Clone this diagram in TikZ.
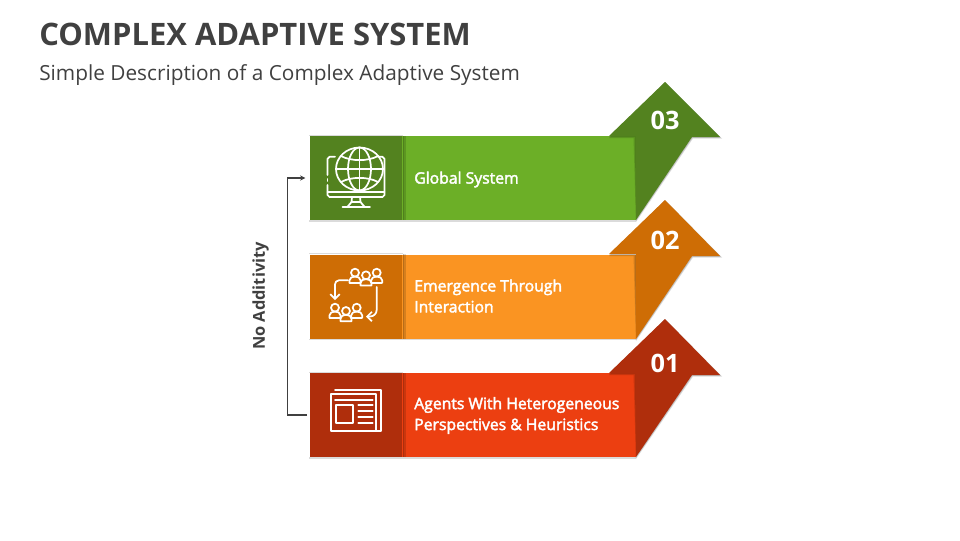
\documentclass[tikz,border=0pt]{standalone}
\usepackage{fontspec}
\setmainfont{Open Sans}
\newfontfamily\semifont[FakeBold=2.5]{Open Sans}
\usetikzlibrary{arrows.meta}

\definecolor{greenlight}{HTML}{6CAF27}
\definecolor{greendark}{HTML}{53821F}
\definecolor{orangelight}{HTML}{FA9422}
\definecolor{orangedark}{HTML}{CE6D05}
\definecolor{redlight}{HTML}{EC3F11}
\definecolor{reddark}{HTML}{AF2E0C}
\definecolor{inkgray}{HTML}{404040}

\tikzset{
	barbox/.style = {minimum width = 175.5pt, minimum height = 63pt, inner sep = 0pt},
	iconbox/.style = {minimum width = 69.5pt, minimum height = 63pt, inner sep = 0pt},
	softshade/.style = {fill = black, opacity = .14},
	barlabel/.style = {anchor = west, align = left, text = white, font = \fontsize{11.8}{15.7}\semifont, inner sep = 0pt},
	numlabel/.style = {text = white, font = \fontsize{19}{19}\selectfont\bfseries, inner sep = 0pt},
	iconline/.style = {draw = white, line width = 1.3pt, line cap = round, line join = round},
	iconthick/.style = {iconline, line width = 1.6pt},
	person/.pic = {
		\draw[iconline] (0,-5.2) circle (4);
		\draw[iconline] (-5.5,5) -- (-5.5,2.5) arc (180:360:5.5 and 4) -- (5.5,5) -- cycle;
	}
}

\begin{document}
\begin{tikzpicture}[x = .75pt, y = -.75pt]
	\useasboundingbox (0,0) rectangle (960,540);

	\node[anchor = west, inner sep = 0pt, text = inkgray, font = \fontsize{23.2}{23.2}\selectfont\bfseries] (title) at (39,34) {COMPLEX ADAPTIVE SYSTEM};
	\node[anchor = west, inner sep = 0pt, text = inkgray, font = \fontsize{15.6}{15.6}\selectfont] (subtitle) at (39,75.5) {Simple Description of a Complex Adaptive System};

	% light bars
	\node[barbox, fill = greenlight] (bar3) at (519,178) {};
	\node[barbox, fill = orangelight] (bar2) at (519,296.5) {};
	\node[barbox, fill = redlight] (bar1) at (519,415) {};

	% icon boxes
	\node[iconbox, fill = greendark] (box3) at (356,178) {};
	\node[iconbox, fill = orangedark] (box2) at (356,296.5) {};
	\node[iconbox, fill = reddark] (box1) at (356,415) {};

	% soft edges of the boxes and bars
	\foreach \rowid in {1,2,3} {
		\fill[softshade] (box\rowid.south west) rectangle ([shift = {(0,1.6)}]bar\rowid.south east);
		\fill[softshade] ([shift = {(0,-1.2)}]box\rowid.north west) rectangle (box\rowid.north east);
		\fill[softshade] (box\rowid.north east) rectangle ([shift = {(3.2,0)}]box\rowid.south east);
		\fill[softshade] (box\rowid.north east) rectangle ([shift = {(1.8,0)}]box\rowid.south east);
	}

	% arrows
	\foreach \tipy/\lefty/\righty/\lowy/\arrowcol in {82/136/137/220/greendark, 200/254/256/339/orangedark, 319/373/375/457/reddark} {
		\fill[softshade] (665,\tipy) -- (722,\righty+1.5) -- (693,\righty+1.5) -- (636,\lowy+2) -- (633.5,\lefty+2) -- (609,\lefty+2) -- cycle;
		\fill[softshade] (665,\tipy) -- (721,\righty+.8) -- (692.5,\righty+.8) -- (636,\lowy+1) -- (634.8,\lefty+1) -- (609,\lefty+1) -- cycle;
		\fill[\arrowcol] (665,\tipy) -- (720,\righty) -- (692,\righty) -- (636,\lowy) -- (636,\lefty) -- (609,\lefty) -- cycle;
	}

	\node[numlabel] (num3) at (665,120) {03};
	\node[numlabel] (num2) at (665,240) {02};
	\node[numlabel] (num1) at (665,363) {01};

	\node[barlabel] (text3) at (414,179.5) {Global System};
	\node[barlabel] (text2) at (414,296) {Emergence Through\\Interaction};
	\node[barlabel] (text1) at (414,415.5) {Agents With Heterogeneous\\Perspectives \& Heuristics};

	% connector
	\draw[inkgray, line width = 1.25pt, -{Stealth[length = 4pt, width = 4pt]}, shorten < = 1.8pt, shorten > = 3pt] (box1.west) -- ++(-22,0) |- (box3.west);
	\node[rotate = 90, inner sep = 0pt, text = inkgray, font = \fontsize{12.3}{12.3}\selectfont\bfseries] (sidelabel) at (260.5,296) {No Additivity};

	% globe icon
	\draw[iconline] (359.5,169) ellipse (23.5 and 21.5);
	\draw[iconline] (359.5,169) ellipse (11.5 and 21.5);
	\draw[iconline] (359.5,147.5) -- (359.5,190.5);
	\draw[iconline] (336,169) -- (383,169);
	\draw[iconline] (341,156) .. controls (351,161.5) and (368,161.5) .. (378,156);
	\draw[iconline] (341,182) .. controls (351,176.5) and (368,176.5) .. (378,182);
	\draw[iconline] (335,156.8) -- (329.5,156.8) -- (327.5,158.8) -- (327.5,175);
	\draw[iconline] (327.5,179) -- (327.5,181);
	\draw[iconline] (327.5,185) -- (327.5,195) -- (329.5,197) -- (382.5,197) -- (384.5,195) -- (384.5,158.8) -- (382.5,156.8) -- (378,156.8);
	\draw[iconline] (327.5,192) -- (384.5,192);
	\draw[iconline] (352,197) -- (351.5,202) -- (347.5,206.8);
	\draw[iconline] (360,197) -- (360.5,202) -- (364.5,206.8);
	\draw[iconline] (351.5,202) -- (360.5,202);
	\draw[iconline] (342.5,206.8) -- (370,206.8);

	% people icon
	\pic at (355,277.9) {person};
	\pic at (376.7,277.9) {person};
	\pic at (366,280.5) {person};
	\pic at (335,312.9) {person};
	\pic at (356.7,312.9) {person};
	\pic at (346,316.2) {person};
	\draw[iconline, rounded corners = 3pt, -{Straight Barb[length = 3.5pt, width = 7pt]}] (348,280.3) -- (335,280.3) -- (335,300);
	\draw[iconline, rounded corners = 5pt, -{Straight Barb[length = 3.5pt, width = 7pt]}] (376.7,287) -- (376.7,316.5) -- (366,316.5);

	% newspaper icon
	\draw[iconline] (330.7,394.3) rectangle (376,431);
	\draw[iconline] (335,390) -- (381,390) -- (381,431) -- (376,431);
	\draw[iconline] (335,399.7) -- (372.7,399.7);
	\draw[iconthick] (335.7,405) rectangle (353.3,422.7);
	\draw[iconline] (358.3,405) -- (372.7,405);
	\draw[iconline] (358.3,411) -- (372.7,411);
	\draw[iconline] (358.3,416.7) -- (372.7,416.7);
	\draw[iconline] (358.3,422.7) -- (372.7,422.7);
\end{tikzpicture}
\end{document}
